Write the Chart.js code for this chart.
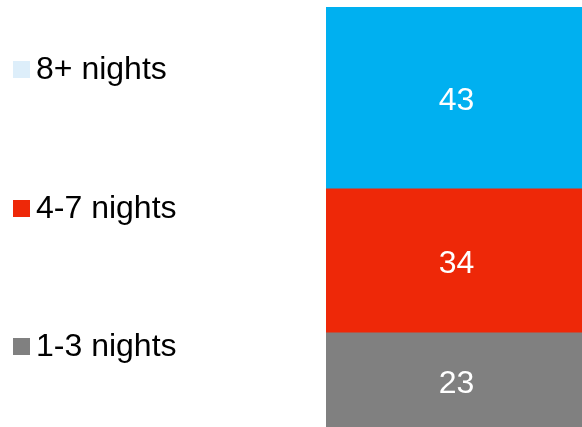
<!DOCTYPE html>
<html>
<head>
<meta charset="utf-8">
<script src="https://cdn.jsdelivr.net/npm/chart.js@4/dist/chart.umd.min.js"></script>
<style>
  html, body { margin: 0; padding: 0; background: #ffffff; overflow: hidden; }
  #wrap { width: 587px; height: 430px; position: relative; }
</style>
</head>
<body>
<div id="wrap"><canvas id="c" width="587" height="430"></canvas></div>
<script>
// Length of stay, share of trips (%)
const categories = ['Trips'];
const seriesNames = ['1-3 nights', '4-7 nights', '8+ nights'];
const shortStay = [23];
const midStay = [34];
const longStay = [43];

const barColors = ['#808080', '#EE2808', '#00B0F0'];
const keyColors = ['#808080', '#EE2808', '#DDEEFA'];
const FONT = '"Liberation Sans", Arial, sans-serif';

// Legend drawn as a column on the left, top entry first
const sideLegend = {
  id: 'sideLegend',
  afterDraw(chart) {
    const ctx = chart.ctx;
    const rows = [69, 208, 346];
    const order = [2, 1, 0];
    ctx.save();
    ctx.font = '32px ' + FONT;
    ctx.textBaseline = 'middle';
    ctx.textAlign = 'left';
    order.forEach((di, i) => {
      const y = rows[i];
      ctx.fillStyle = keyColors[di];
      ctx.fillRect(13, y - 8, 17, 17);
      ctx.fillStyle = '#000000';
      ctx.fillText(chart.data.datasets[di].label, 36, y + 1);
    });
    ctx.restore();
  }
};

// Value labels centred in each segment
const segmentLabels = {
  id: 'segmentLabels',
  afterDatasetsDraw(chart) {
    const ctx = chart.ctx;
    ctx.save();
    ctx.font = '32px ' + FONT;
    ctx.fillStyle = '#ffffff';
    ctx.textAlign = 'center';
    ctx.textBaseline = 'middle';
    chart.data.datasets.forEach((ds, di) => {
      chart.getDatasetMeta(di).data.forEach((bar, i) => {
        const cx = bar.x;
        const cy = (bar.y + bar.base) / 2;
        ctx.fillText(String(ds.data[i]), cx, cy + 3);
      });
    });
    ctx.restore();
  }
};

new Chart(document.getElementById('c'), {
  type: 'bar',
  data: {
    labels: categories,
    datasets: [
      { label: seriesNames[0], data: shortStay, backgroundColor: barColors[0] },
      { label: seriesNames[1], data: midStay, backgroundColor: barColors[1] },
      { label: seriesNames[2], data: longStay, backgroundColor: barColors[2] }
    ]
  },
  options: {
    responsive: false,
    animation: false,
    layout: { padding: { left: 326, top: 7, right: 0, bottom: 0 } },
    datasets: { bar: { barPercentage: 1, categoryPercentage: 1, borderWidth: 0 } },
    scales: {
      x: { stacked: true, display: false },
      y: { stacked: true, display: false, min: 0, max: 100 }
    },
    plugins: {
      legend: { display: false },
      tooltip: { enabled: false }
    }
  },
  plugins: [segmentLabels, sideLegend]
});
</script>
</body>
</html>
